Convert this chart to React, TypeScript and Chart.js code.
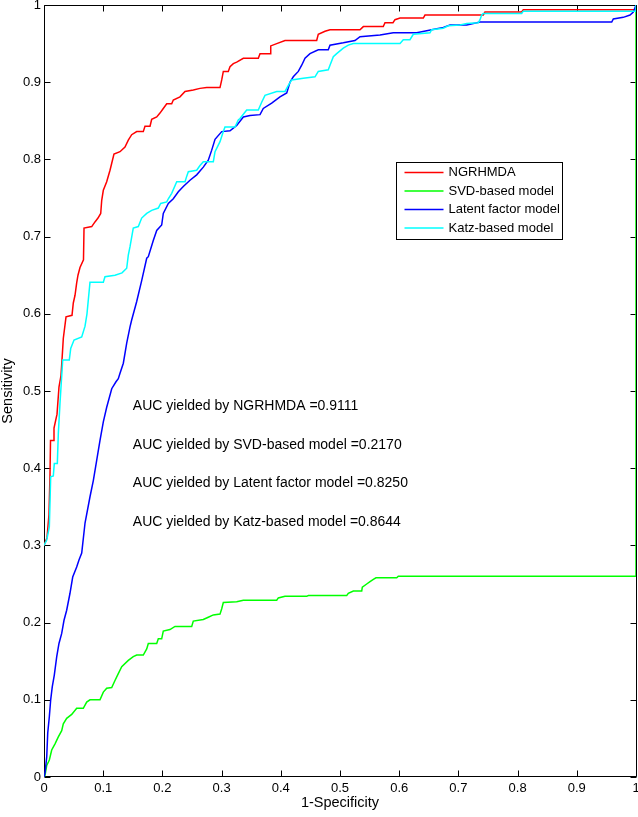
import React, { useEffect, useRef } from "react";
import { Chart, registerables } from "chart.js";

Chart.register(...registerables);

// ---- tick values ----
const xTickValues = [0, 0.1, 0.2, 0.3, 0.4, 0.5, 0.6, 0.7, 0.8, 0.9, 1];
const yTickValues = [0, 0.1, 0.2, 0.3, 0.4, 0.5, 0.6, 0.7, 0.8, 0.9, 1];

// ---- series names / colours ----
const seriesNames = ["NGRHMDA", "SVD-based model", "Latent factor model", "Katz-based model"];
const seriesColors = ["#ff0000", "#00ff00", "#0000ff", "#00ffff"];
const aucValues = ["0.9111", "0.2170", "0.8250", "0.8644"];

// ---- NGRHMDA (red): ROC path vertices (1-specificity, sensitivity) ----
const ngrhmdaX = [0, 0.0051, 0.0084, 0.0101, 0.011, 0.0169, 0.0169, 0.022, 0.0253, 0.0287, 0.0304, 0.0326, 0.0372, 0.0473, 0.0495, 0.0524, 0.0552, 0.0574, 0.0608, 0.0667, 0.0676, 0.0806, 0.0861, 0.0912, 0.0958, 0.0975, 0.1002, 0.1059, 0.1115, 0.1144, 0.1182, 0.1284, 0.1368, 0.1424, 0.1481, 0.1566, 0.1677, 0.1706, 0.1791, 0.1819, 0.1904, 0.1959, 0.2015, 0.2073, 0.2157, 0.2184, 0.2297, 0.2382, 0.2522, 0.2635, 0.2748, 0.2973, 0.3002, 0.3029, 0.3113, 0.3142, 0.3198, 0.3255, 0.3367, 0.362, 0.3649, 0.3818, 0.383, 0.3931, 0.4071, 0.4606, 0.4633, 0.4747, 0.4831, 0.5338, 0.5394, 0.5731, 0.576, 0.5895, 0.5929, 0.6014, 0.6407, 0.6436, 0.7421, 0.7449, 0.8069, 0.8096, 1, 1];
const ngrhmdaY = [0.30, 0.31, 0.34, 0.39, 0.436, 0.436, 0.452, 0.47, 0.505, 0.52, 0.54, 0.568, 0.596, 0.598, 0.614, 0.624, 0.64, 0.65, 0.66, 0.67, 0.711, 0.713, 0.719, 0.724, 0.73, 0.747, 0.76, 0.771, 0.786, 0.795, 0.807, 0.81, 0.816, 0.825, 0.832, 0.836, 0.836, 0.843, 0.843, 0.852, 0.855, 0.86, 0.866, 0.872, 0.872, 0.877, 0.881, 0.888, 0.89, 0.892, 0.893, 0.893, 0.903, 0.914, 0.914, 0.92, 0.924, 0.926, 0.931, 0.931, 0.937, 0.937, 0.947, 0.95, 0.954, 0.954, 0.962, 0.966, 0.968, 0.968, 0.972, 0.972, 0.977, 0.977, 0.981, 0.983, 0.983, 0.987, 0.987, 0.991, 0.991, 0.994, 0.994, 1];

// ---- SVD-based model (green) ----
const svdX = [0, 0.0017, 0.0046, 0.009, 0.013, 0.0186, 0.0242, 0.0299, 0.0326, 0.0383, 0.0468, 0.0552, 0.0664, 0.0721, 0.0777, 0.0946, 0.1002, 0.1059, 0.1144, 0.1199, 0.1255, 0.1313, 0.1424, 0.1508, 0.1566, 0.1677, 0.1735, 0.1762, 0.1904, 0.1931, 0.1988, 0.2015, 0.2128, 0.2213, 0.2495, 0.2522, 0.2691, 0.2775, 0.286, 0.2973, 0.3002, 0.3029, 0.3255, 0.3367, 0.3931, 0.3958, 0.4071, 0.4438, 0.4465, 0.5113, 0.514, 0.5225, 0.5367, 0.5377, 0.5451, 0.5507, 0.5563, 0.5608, 0.5958, 0.5985, 1, 1];
const svdY = [0, 0.002, 0.015, 0.022, 0.035, 0.043, 0.052, 0.06, 0.069, 0.076, 0.081, 0.089, 0.089, 0.097, 0.1, 0.1, 0.11, 0.115, 0.116, 0.125, 0.134, 0.143, 0.151, 0.156, 0.158, 0.158, 0.166, 0.173, 0.173, 0.179, 0.179, 0.189, 0.191, 0.195, 0.195, 0.202, 0.204, 0.207, 0.21, 0.211, 0.218, 0.226, 0.227, 0.229, 0.229, 0.232, 0.234, 0.234, 0.235, 0.235, 0.238, 0.241, 0.241, 0.246, 0.25, 0.253, 0.256, 0.258, 0.258, 0.26, 0.26, 1];

// ---- Latent factor model (blue) ----
const latentX = [0, 0.0017, 0.0046, 0.0063, 0.009, 0.0113, 0.014, 0.0174, 0.0215, 0.0253, 0.0299, 0.0338, 0.0383, 0.0439, 0.0485, 0.0552, 0.0591, 0.0637, 0.0693, 0.0777, 0.0833, 0.089, 0.0946, 0.1002, 0.1059, 0.1144, 0.1216, 0.1255, 0.1284, 0.134, 0.1397, 0.1453, 0.1481, 0.1566, 0.165, 0.1735, 0.1762, 0.1846, 0.1904, 0.1988, 0.2015, 0.21, 0.2184, 0.2269, 0.2353, 0.2466, 0.2579, 0.2691, 0.2775, 0.2833, 0.2889, 0.3002, 0.3142, 0.3255, 0.3367, 0.348, 0.3649, 0.3704, 0.3846, 0.3986, 0.41, 0.4155, 0.4211, 0.4296, 0.4353, 0.4409, 0.4493, 0.4633, 0.4802, 0.4831, 0.5056, 0.5253, 0.5338, 0.5676, 0.59, 0.6296, 0.6549, 0.6745, 0.6858, 0.714, 0.7365, 0.959, 0.9617, 0.9785, 0.9899, 0.9955, 1];
const latentY = [0, 0.005, 0.026, 0.057, 0.078, 0.1, 0.117, 0.132, 0.156, 0.173, 0.186, 0.203, 0.216, 0.238, 0.259, 0.272, 0.281, 0.29, 0.329, 0.363, 0.384, 0.41, 0.436, 0.46, 0.479, 0.503, 0.512, 0.516, 0.523, 0.536, 0.562, 0.583, 0.592, 0.616, 0.643, 0.672, 0.674, 0.695, 0.708, 0.715, 0.73, 0.743, 0.749, 0.758, 0.765, 0.773, 0.78, 0.79, 0.799, 0.812, 0.826, 0.836, 0.837, 0.844, 0.855, 0.857, 0.858, 0.866, 0.873, 0.881, 0.886, 0.9, 0.907, 0.914, 0.922, 0.931, 0.937, 0.942, 0.942, 0.948, 0.951, 0.954, 0.959, 0.961, 0.964, 0.964, 0.968, 0.971, 0.974, 0.974, 0.978, 0.978, 0.982, 0.984, 0.987, 0.991, 1];

// ---- Katz-based model (cyan) ----
const katzX = [0, 0.0046, 0.009, 0.0113, 0.0157, 0.0174, 0.0225, 0.0242, 0.027, 0.0316, 0.0427, 0.0451, 0.0507, 0.0637, 0.0693, 0.0726, 0.0777, 0.1002, 0.103, 0.1199, 0.1318, 0.1397, 0.1424, 0.1453, 0.1508, 0.1593, 0.165, 0.1735, 0.1819, 0.1931, 0.1971, 0.2073, 0.21, 0.2157, 0.2242, 0.2382, 0.241, 0.2438, 0.2579, 0.2635, 0.2691, 0.286, 0.2889, 0.2973, 0.3029, 0.3057, 0.3226, 0.3282, 0.3311, 0.3424, 0.362, 0.3677, 0.3733, 0.3931, 0.4071, 0.4127, 0.4184, 0.438, 0.4578, 0.4633, 0.4802, 0.4831, 0.4887, 0.4944, 0.5056, 0.514, 0.5225, 0.6014, 0.6069, 0.6182, 0.6238, 0.652, 0.6549, 0.6745, 0.6829, 0.7027, 0.714, 0.7336, 0.7365, 0.7394, 0.742, 0.8069, 0.8096, 1, 1];
const katzY = [0.30, 0.307, 0.324, 0.389, 0.39, 0.406, 0.406, 0.445, 0.484, 0.54, 0.54, 0.555, 0.566, 0.57, 0.584, 0.6, 0.641, 0.641, 0.648, 0.65, 0.653, 0.659, 0.676, 0.687, 0.711, 0.713, 0.724, 0.73, 0.734, 0.737, 0.743, 0.745, 0.749, 0.756, 0.771, 0.771, 0.778, 0.784, 0.786, 0.792, 0.797, 0.797, 0.81, 0.823, 0.836, 0.842, 0.842, 0.851, 0.853, 0.864, 0.864, 0.874, 0.883, 0.888, 0.888, 0.896, 0.903, 0.905, 0.907, 0.914, 0.916, 0.922, 0.933, 0.937, 0.944, 0.948, 0.95, 0.95, 0.955, 0.955, 0.962, 0.964, 0.968, 0.97, 0.973, 0.974, 0.976, 0.977, 0.981, 0.987, 0.989, 0.989, 0.992, 0.992, 1];

const seriesX = [ngrhmdaX, svdX, latentX, katzX];
const seriesY = [ngrhmdaY, svdY, latentY, katzY];
const drawOrder = [4, 3, 2, 1]; // cyan on top, red at the bottom

const FONT = "'Liberation Sans', Arial, Helvetica, sans-serif";

const matlabPlugin = {
  id: "matlabDecor",
  beforeDatasetsDraw(chart: any) {
    const { ctx, chartArea, scales } = chart;
    const { left, right, top, bottom } = chartArea;
    const L = Math.floor(left) + 0.5;
    const R = Math.floor(right) + 0.5;
    const T = Math.floor(top) + 0.5;
    const B = Math.floor(bottom) - 0.5;
    ctx.save();
    ctx.strokeStyle = "#000";
    ctx.lineWidth = 1;
    ctx.beginPath();
    ctx.rect(L, T, R - L, B - T);
    const tl = 6;
    for (const v of xTickValues) {
      const px = Math.round(scales.x.getPixelForValue(v)) + 0.5;
      ctx.moveTo(px, B);
      ctx.lineTo(px, B - tl);
      ctx.moveTo(px, T);
      ctx.lineTo(px, T + tl);
    }
    for (const v of yTickValues) {
      const py = Math.round(scales.y.getPixelForValue(v)) + 0.5;
      ctx.moveTo(L, py);
      ctx.lineTo(L + tl, py);
      ctx.moveTo(R, py);
      ctx.lineTo(R - tl, py);
    }
    ctx.stroke();
    ctx.restore();
  },
  afterDatasetsDraw(chart: any) {
    const { ctx, scales } = chart;
    ctx.save();
    // AUC annotations (placed in data coordinates)
    const aucYs = [0.48, 0.43, 0.38, 0.33];
    ctx.fillStyle = "#000";
    ctx.font = `14px ${FONT}`;
    ctx.textAlign = "left";
    ctx.textBaseline = "middle";
    seriesNames.forEach((name, i) => {
      const tx = scales.x.getPixelForValue(0.15);
      const ty = scales.y.getPixelForValue(aucYs[i]);
      ctx.fillText(`AUC yielded by ${name} =${aucValues[i]}`, tx, ty);
    });
    // legend box
    const bx = Math.round(scales.x.getPixelForValue(0.595)) + 0.5;
    const by = Math.round(scales.y.getPixelForValue(0.796)) + 0.5;
    const bw = 166;
    const bh = 77;
    ctx.fillStyle = "#fff";
    ctx.fillRect(bx, by, bw, bh);
    ctx.strokeStyle = "#000";
    ctx.lineWidth = 1;
    ctx.strokeRect(bx, by, bw, bh);
    ctx.font = `13px ${FONT}`;
    seriesNames.forEach((name, i) => {
      const ry = by + 10 + i * 18.5;
      ctx.strokeStyle = seriesColors[i];
      ctx.lineWidth = 1.5;
      ctx.beginPath();
      ctx.moveTo(bx + 8, ry);
      ctx.lineTo(bx + 47, ry);
      ctx.stroke();
      ctx.fillStyle = "#000";
      ctx.fillText(name, bx + 52, ry);
    });
    ctx.restore();
  },
};

export default function App() {
  const ref = useRef<HTMLCanvasElement | null>(null);
  useEffect(() => {
    document.body.style.margin = "0";
    if (!ref.current) return;
    const datasets = seriesNames.map((name, i) => ({
      label: name,
      data: seriesX[i].map((x, j) => ({ x, y: seriesY[i][j] })),
      borderColor: seriesColors[i],
      backgroundColor: seriesColors[i],
      borderWidth: 1.5,
      pointRadius: 0,
      tension: 0,
      fill: false,
      order: drawOrder[i],
    }));
    const chart = new Chart(ref.current, {
      type: "line",
      data: { datasets },
      plugins: [matlabPlugin],
      options: {
        animation: false,
        responsive: false,
        maintainAspectRatio: false,
        parsing: false as any,
        layout: { padding: { top: 5, right: 2, left: 0, bottom: 0 } },
        plugins: { legend: { display: false }, tooltip: { enabled: false } },
        scales: {
          x: {
            type: "linear",
            min: 0,
            max: 1,
            afterBuildTicks: (s: any) => {
              s.ticks = xTickValues.map((v) => ({ value: v }));
            },
            afterFit: (s: any) => {
              s.height = 40;
              s.paddingLeft = 0;
              s.paddingRight = 0;
            },
            grid: { display: false, drawTicks: false, tickLength: 0 },
            border: { display: false },
            ticks: {
              padding: 4,
              autoSkip: false,
              maxRotation: 0,
              color: "#000",
              font: { family: FONT, size: 13 },
              callback: (v: any) => String(Number(Number(v).toFixed(1))),
            },
            title: {
              display: true,
              text: "1-Specificity",
              color: "#000",
              font: { family: FONT, size: 14.5 },
              padding: { top: 0, bottom: 5 },
            },
          },
          y: {
            type: "linear",
            min: 0,
            max: 1,
            afterBuildTicks: (s: any) => {
              s.ticks = yTickValues.map((v) => ({ value: v }));
            },
            afterFit: (s: any) => {
              s.width = 44;
              s.paddingTop = 0;
              s.paddingBottom = 0;
            },
            grid: { display: false, drawTicks: false, tickLength: 0 },
            border: { display: false },
            ticks: {
              padding: 3,
              autoSkip: false,
              color: "#000",
              font: { family: FONT, size: 13 },
              callback: (v: any) => String(Number(Number(v).toFixed(1))),
            },
            title: {
              display: true,
              text: "Sensitivity",
              color: "#000",
              font: { family: FONT, size: 14.5 },
              padding: { top: -1, bottom: 0 },
            },
          },
        },
      } as any,
    });
    return () => chart.destroy();
  }, []);
  return (
    <div style={{ width: 638, height: 817, background: "#fff" }}>
      <canvas ref={ref} width={638} height={817} style={{ display: "block", width: 638, height: 817 }} />
    </div>
  );
}
